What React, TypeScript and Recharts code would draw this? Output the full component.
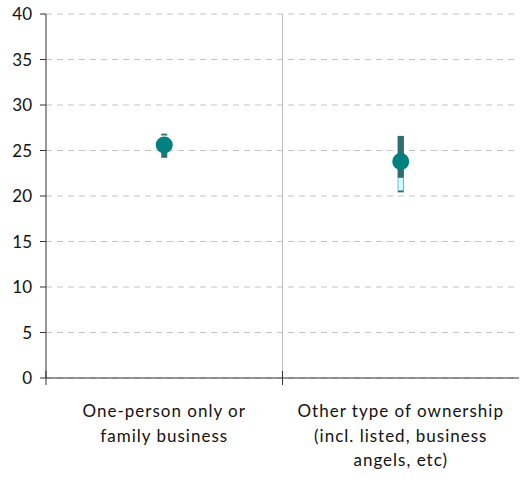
import React from 'react';
import { ComposedChart, Line, ErrorBar, XAxis, YAxis, CartesianGrid, ReferenceLine } from 'recharts';

// categories and the label lines as they wrap under the axis
const categories = ['One-person only or family business', 'Other type of ownership (incl. listed, business angels, etc)'];
const tickLabelLines = [
  ['One-person only or', 'family business'],
  ['Other type of ownership', '(incl. listed, business', 'angels, etc)'],
];
const yTicks = [0, 5, 10, 15, 20, 25, 30, 35, 40];

// point estimate and interval ends
const meanValues = [25.6, 23.8];
const upperValues = [26.85, 26.6];
const lowerValues = [24.2, 20.4];
// second category: lighter lower part of the interval bar
const lightLow = [null, 20.6];
const lightHigh = [null, 22.0];
// first category: small gap between the top cap and the marker
const capGapTop = [26.65, null];

const DARK = '#2f6e6e';
const LIGHT = '#ccffff';
const TEAL = '#008080';
const FONT = "Lato, 'Open Sans', sans-serif";

const data = categories.map((name, i) => {
  const m = meanValues[i];
  return {
    name,
    pos: i + 0.5,
    mean: m,
    outer: [m - lowerValues[i], upperValues[i] - m],
    light: lightLow[i] != null ? [m - (lightLow[i] as number), 0] : [0, 0],
    darkTop: lightHigh[i] != null ? [m - (lightHigh[i] as number), upperValues[i] - m] : [0, 0],
    gap: capGapTop[i] != null ? [0, (capGapTop[i] as number) - m] : [0, 0],
  };
});

const XTick = (props: any) => {
  const { x, y, payload } = props;
  const v = payload.value;
  if (Number.isInteger(v)) {
    return <line x1={x} x2={x} y1={y - 7} y2={y + 7} stroke="#333" strokeWidth={1} />;
  }
  const lines = tickLabelLines[Math.floor(v)];
  return (
    <text x={x} y={y + 39} textAnchor="middle" fill="#111" fontSize={17} fontFamily={FONT} letterSpacing={1}>
      {lines.map((l, i) => (
        <tspan key={i} x={x} dy={i === 0 ? 0 : 24.5}>{l}</tspan>
      ))}
    </text>
  );
};

export default function App() {
  return (
    <div style={{ position: 'absolute', left: 0, top: 0, width: 521, height: 481, background: '#fff' }}>
      <ComposedChart width={521} height={481} data={data} margin={{ top: 14, right: 2, left: 6, bottom: 0 }}>
        <CartesianGrid vertical={false} strokeDasharray="6 5" stroke="#c4c4c4" />
        <XAxis
          dataKey="pos"
          type="number"
          domain={[0, 2]}
          ticks={[0, 0.5, 1, 1.5]}
          height={103}
          tickSize={0}
          tickMargin={0}
          tickLine={false}
          axisLine={{ stroke: '#333' }}
          tick={<XTick />}
          interval={0}
        />
        <YAxis
          domain={[0, 40]}
          ticks={yTicks}
          width={40}
          tickSize={6}
          tickMargin={8}
          axisLine={{ stroke: '#333' }}
          tickLine={{ stroke: '#333' }}
          tick={{ fill: '#111', fontSize: 17, fontFamily: FONT }}
          interval={0}
        />
        <ReferenceLine x={1} stroke="#c0c0c0" />
        <Line dataKey="mean" stroke="none" strokeWidth={0} dot={false} activeDot={false} isAnimationActive={false}>
          <ErrorBar dataKey="outer" width={0} strokeWidth={6} stroke={DARK} direction="y" />
          <ErrorBar dataKey="light" width={0} strokeWidth={5} stroke={LIGHT} direction="y" />
          <ErrorBar dataKey="darkTop" width={0} strokeWidth={6} stroke={DARK} direction="y" />
          <ErrorBar dataKey="gap" width={0} strokeWidth={7} stroke="#ffffff" direction="y" />
        </Line>
        <Line
          dataKey="mean"
          stroke="none"
          strokeWidth={0}
          dot={{ r: 8.5, fill: TEAL, stroke: TEAL, strokeWidth: 0 }}
          activeDot={false}
          isAnimationActive={false}
        />
      </ComposedChart>
    </div>
  );
}
